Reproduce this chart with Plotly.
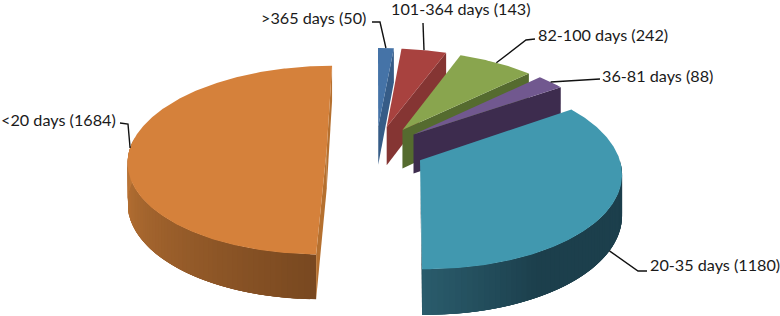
import numpy as np
import plotly.graph_objects as go

# --- data ---
categories = [">365 days", "101-364 days", "82-100 days", "36-81 days", "20-35 days", "<20 days"]
values = [50, 143, 242, 88, 1180, 1684]

# --- style ---
top_colors = ["#4573A7", "#A8423F", "#89A54E", "#71588F", "#4198AF", "#D5813B"]
cut_colors = ["#365C87", "#853533", "#556B2F", "#3D2C4E", "#1F4452", "#B5702F"]
wall_stops = {4: [(96, "#1C3F4C"), (150, "#1C3F4C"), (181, "#2A5C6C")],
              5: [(181, "#784820"), (272, "#BE7636")]}
label_pos = [(260, 17), (390, 8), (537, 34), (601, 75), (649, 264), (0, 119)]
leader_elbows = [[(372, 22), (380, 22)], [(423, 23)], [(535, 39), (526, 40)],
                 [(600, 79)], [(647, 271), (638, 271)], [(120, 123), (128, 124)]]
FONT = "Lato"
VP_X, Y0, B, A, K, D, EXPLODE = 376, 149, 197, 93, 0.12, 39.5, 0.25


def hex2rgb(h):
    return np.array([int(h[i:i + 2], 16) for i in (1, 3, 5)], float)


def rgb2hex(c):
    return "#%02X%02X%02X" % tuple(int(round(v)) for v in c)


def project(U, V, drop=0.0):
    w = 1 + K * V
    return VP_X + B * U / w, Y0 - A * V / w + drop / w


fig = go.Figure()


def poly(xs, ys, color, lw=0.0):
    fig.add_trace(go.Scatter(x=list(xs), y=list(ys), mode="lines", fill="toself",
                             fillcolor=color, line=dict(color=color, width=lw),
                             hoverinfo="skip", showlegend=False))


def wall_color(i, deg):
    stops = wall_stops.get(i)
    if stops is None:
        return cut_colors[i]
    ds = [s[0] for s in stops]
    cs = np.array([hex2rgb(s[1]) for s in stops])
    return rgb2hex([np.interp(deg, ds, cs[:, j]) for j in range(3)])


fractions = np.array(values, float) / sum(values)
edges = np.concatenate([[0], np.cumsum(fractions) * 360])
anchors = []

for i in [5, 0, 1, 2, 3, 4]:
    t1, t2 = edges[i], edges[i + 1]
    mid = np.radians((t1 + t2) / 2)
    ou, ov = EXPLODE * np.sin(mid), EXPLODE * np.cos(mid)
    rim = lambda deg: (ou + np.sin(np.radians(deg)), ov + np.cos(np.radians(deg)))

    # outer wall: each shading band overlaps the next ones so that no seams show
    band = np.arange(t1, t2, 1.5)
    for a in band:
        if np.cos(np.radians(a)) < 0.02:
            end = min(a + 6, t2)
            th = np.linspace(a, end, 6)
            us, vs = rim(th)
            x_top, y_top = project(us, vs)
            x_bot, y_bot = project(us, vs, D)
            poly(np.concatenate([x_top, x_bot[::-1], x_top[:1]]),
                 np.concatenate([y_top, y_bot[::-1], y_top[:1]]), wall_color(i, a + 0.75))

    # cut faces
    for deg in ([t1, t2] if i == 5 else [t2]):
        u, v = rim(deg)
        pts = [project(ou, ov), project(u, v), project(u, v, D), project(ou, ov, D), project(ou, ov)]
        poly([p[0] for p in pts], [p[1] for p in pts], cut_colors[i])

    # top surface
    th = np.linspace(t1, t2, max(int(t2 - t1) * 2, 12))
    us, vs = rim(th)
    xs, ys = project(np.concatenate([[ou], us, [ou]]), np.concatenate([[ov], vs, [ov]]))
    poly(xs, ys, top_colors[i])

    um, vm = rim((t1 + t2) / 2)
    anchors.append((i, project(um, vm, D if i == 4 else 0)))

# leader lines, ending at each slice's rim
for i, end in sorted(anchors):
    path = leader_elbows[i] + [end]
    fig.add_trace(go.Scatter(x=[p[0] for p in path], y=[p[1] for p in path], mode="lines",
                             line=dict(color="#111111", width=1.4),
                             hoverinfo="skip", showlegend=False))

for cat, val, (x, y) in zip(categories, values, label_pos):
    fig.add_annotation(x=x, y=y, text=f"{cat} ({val})", showarrow=False,
                       xanchor="left", yanchor="middle", xshift=-1,
                       font=dict(family=FONT, size=16.2, color="#1A1A1A"))

fig.update_layout(width=780, height=316, margin=dict(l=0, r=0, t=0, b=0),
                  paper_bgcolor="white", plot_bgcolor="white", showlegend=False,
                  xaxis=dict(range=[0, 780], visible=False, fixedrange=True),
                  yaxis=dict(range=[316, 0], visible=False, fixedrange=True))
fig.write_html("out.html", config={"displayModeBar": False},
               post_script="document.body.style.margin='0';document.documentElement.style.overflow='hidden';")
